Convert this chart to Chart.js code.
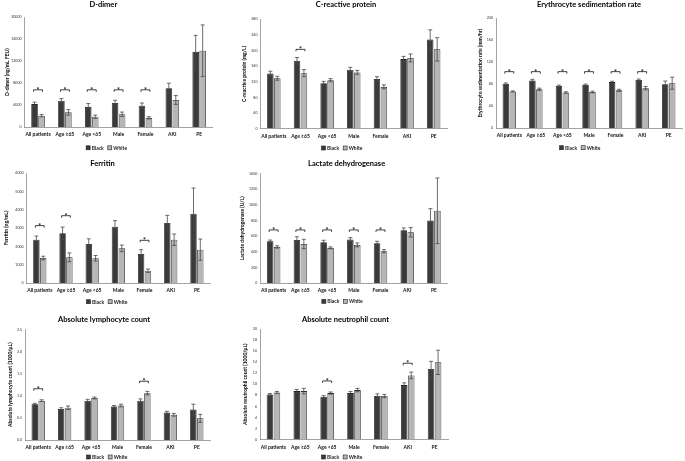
<!DOCTYPE html>
<html>
<head>
<meta charset="utf-8">
<script src="https://cdn.jsdelivr.net/npm/chart.js@4.4.0/dist/chart.umd.min.js"></script>
<style>
body { margin: 0; background: #fff; }
#wrap { position: relative; width: 685px; height: 461px; overflow: hidden; }
canvas { position: absolute; }
</style>
</head>
<body>
<div id="wrap"></div>
<script>
var groups = ['All patients', 'Age \u226565', 'Age <65', 'Male', 'Female', 'AKI', 'PE'];
var seriesNames = ['Black', 'White'];

// D-dimer (ng/mL FEU)
var ddimerBlack = [4200, 4800, 3700, 4400, 3900, 7100, 13700];
var ddimerBlackErr = [350, 400, 600, 500, 500, 900, 3000];
var ddimerWhite = [2100, 2700, 1900, 2350, 1700, 4950, 13900];
var ddimerWhiteErr = [200, 500, 300, 400, 200, 800, 4700];
var ddimerSig = [0, 1, 2, 3, 4];
var ddimerSigAt = [6800, 6800, 6800, 6800, 6800];

// C-reactive protein (mg/L)
var crpBlack = [141, 174, 116, 151, 127, 178, 228];
var crpBlackErr = [6, 8, 5, 6, 6, 7, 25];
var crpWhite = [129, 142, 124, 144, 107, 181, 203];
var crpWhiteErr = [5, 9, 4, 5, 5, 10, 30];
var crpSig = [1];
var crpSigAt = [203];

// Erythrocyte sedimentation rate (mm/hr)
var esrBlack = [81, 87, 77, 79, 84, 88, 80];
var esrBlackErr = [1.5, 2, 1.5, 1.5, 1.5, 1.5, 6];
var esrWhite = [67, 71, 65, 66, 69, 73, 82];
var esrWhiteErr = [1, 2, 1.5, 1.5, 2, 3, 11];
var esrSig = [0, 1, 2, 3, 4, 5];
var esrSigAt = [103, 103, 103, 103, 103, 103];

// Ferritin (ng/mL)
var ferBlack = [2360, 2710, 2130, 3070, 1580, 3270, 3780];
var ferBlackErr = [200, 340, 280, 330, 240, 420, 1400];
var ferWhite = [1360, 1400, 1350, 1890, 670, 2360, 1820];
var ferWhiteErr = [100, 240, 150, 180, 90, 310, 580];
var ferSig = [0, 1, 4];
var ferSigAt = [3130, 3670, 2330];

// Lactate dehydrogenase (U/L)
var ldhBlack = [535, 552, 522, 556, 509, 675, 802];
var ldhBlackErr = [15, 40, 25, 25, 25, 30, 150];
var ldhWhite = [462, 500, 450, 488, 407, 650, 925];
var ldhWhiteErr = [15, 60, 12, 25, 20, 60, 420];
var ldhSig = [0, 1, 2, 3, 4];
var ldhSigAt = [680, 680, 680, 680, 680];

// Absolute lymphocyte count (1000/uL)
var lymBlack = [0.81, 0.70, 0.89, 0.76, 0.89, 0.62, 0.69];
var lymBlackErr = [0.02, 0.03, 0.03, 0.02, 0.04, 0.03, 0.12];
var lymWhite = [0.89, 0.73, 0.95, 0.78, 1.06, 0.57, 0.49];
var lymWhiteErr = [0.02, 0.04, 0.02, 0.03, 0.04, 0.03, 0.09];
var lymSig = [0, 4];
var lymSigAt = [1.16, 1.33];

// Absolute neutrophil count (1000/uL)
var neuBlack = [8.16, 8.76, 7.73, 8.4, 7.86, 9.85, 12.75];
var neuBlackErr = [0.15, 0.3, 0.2, 0.3, 0.4, 0.4, 1.4];
var neuWhite = [8.5, 8.76, 8.4, 8.94, 7.86, 11.6, 13.96];
var neuWhiteErr = [0.2, 0.5, 0.2, 0.3, 0.3, 0.6, 2.2];
var neuSig = [2, 5];
var neuSigAt = [10.6, 13.8];

var FONT = 'Lato, "Open Sans", sans-serif';
var BLACK_FILL = '#3a3a3a';
var WHITE_FILL = '#b6b6b6';

// error bars, significance brackets and the small legend
function marks(sig, sigAt, box) {
    return {
        id: 'marks',
        afterDatasetsDraw: function(chart) {
            var ctx = chart.ctx;
            var y = chart.scales.y;
            ctx.save();
            ctx.lineWidth = 0.8;
            ctx.strokeStyle = '#474747';
            chart.data.datasets.forEach(function(ds, i) {
                chart.getDatasetMeta(i).data.forEach(function(bar, j) {
                    var top = y.getPixelForValue(ds.data[j] + ds.errors[j]);
                    var bot = y.getPixelForValue(ds.data[j] - ds.errors[j]);
                    ctx.beginPath();
                    ctx.moveTo(bar.x, top); ctx.lineTo(bar.x, bot);
                    ctx.moveTo(bar.x - 2, top); ctx.lineTo(bar.x + 2, top);
                    ctx.moveTo(bar.x - 2, bot); ctx.lineTo(bar.x + 2, bot);
                    ctx.stroke();
                });
            });
            var b = chart.getDatasetMeta(0).data;
            var w = chart.getDatasetMeta(1).data;
            ctx.strokeStyle = '#111';
            ctx.fillStyle = '#111';
            ctx.font = 'bold 7px ' + FONT;
            ctx.textAlign = 'center';
            ctx.textBaseline = 'alphabetic';
            sig.forEach(function(j, k) {
                var yy = y.getPixelForValue(sigAt[k]);
                var x1 = b[j].x - 1, x2 = w[j].x + 1;
                ctx.beginPath();
                ctx.moveTo(x1, yy + 2); ctx.lineTo(x1, yy); ctx.lineTo(x2, yy); ctx.lineTo(x2, yy + 2);
                ctx.stroke();
                ctx.fillText('*', (x1 + x2) / 2, yy + 3);
            });
            ctx.restore();
        },
        afterDraw: function(chart) {
            var ctx = chart.ctx;
            ctx.save();
            ctx.font = 'bold 5px ' + FONT;
            ctx.textBaseline = 'middle';
            ctx.textAlign = 'left';
            var ly = box.legendY - box.cy0;
            var parts = chart.data.datasets.map(function(ds) { return ctx.measureText(ds.label).width; });
            var total = 4 + 1.5 + parts[0] + 4 + 4 + 1.5 + parts[1];
            var x = box.legendX - box.cx0 - total / 2;
            chart.data.datasets.forEach(function(ds, i) {
                ctx.fillStyle = ds.backgroundColor;
                ctx.fillRect(x, ly - 2, 4, 4);
                ctx.strokeStyle = '#222';
                ctx.lineWidth = 0.6;
                ctx.strokeRect(x, ly - 2, 4, 4);
                ctx.fillStyle = '#222';
                ctx.fillText(ds.label, x + 5.5, ly + 0.3);
                x += 5.5 + parts[i] + 4;
            });
            ctx.restore();
        }
    };
}

function panel(L, title, yTitle, max, step, black, blackErr, white, whiteErr, sig, sigAt, decimals) {
    // where the scale box starts so that title and axis title land where they should
    var sL = Math.min(L.yTitleX - 4, 2 * L.titleX - L.right);
    var rw = Math.max(0, 2 * L.titleX - L.right - sL);
    var tpad = L.yTitleX - 3 - sL;
    var box = {
        cx0: sL - 2, cy0: L.titleY - 5,
        legendX: L.legendX, legendY: L.legendY
    };
    var W = Math.round(L.right + rw + 1 - box.cx0);
    var H = Math.round(L.legendY + 6 - box.cy0);

    var canvas = document.createElement('canvas');
    canvas.width = W;
    canvas.height = H;
    canvas.style.left = box.cx0 + 'px';
    canvas.style.top = box.cy0 + 'px';
    document.getElementById('wrap').appendChild(canvas);

    var chart = new Chart(canvas.getContext('2d'), {
        type: 'bar',
        data: {
            labels: groups,
            datasets: [
                { label: seriesNames[0], data: black, errors: blackErr,
                  backgroundColor: BLACK_FILL, borderColor: '#1c1c1c', borderWidth: 0.8 },
                { label: seriesNames[1], data: white, errors: whiteErr,
                  backgroundColor: WHITE_FILL, borderColor: '#2a2a2a', borderWidth: 0.8 }
            ]
        },
        options: {
            responsive: false,
            animation: false,
            categoryPercentage: 0.52,
            barPercentage: 0.94,
            layout: { padding: { left: 2, right: W - (L.right + rw - box.cx0), top: 0, bottom: 12 } },
            plugins: {
                title: {
                    display: true, text: title, color: '#000',
                    font: { family: FONT, size: 7.5, weight: 'bold', lineHeight: '10px' },
                    padding: { top: 0, bottom: L.top - L.titleY - 5 }
                },
                legend: { display: false },
                tooltip: { enabled: false }
            },
            scales: {
                x: {
                    grid: { display: false, drawTicks: false },
                    border: { color: '#8c8c8c', width: 0.8 },
                    ticks: { color: '#111', maxRotation: 0, minRotation: 0, autoSkip: false, padding: 4.5,
                             font: { family: FONT, size: 5, weight: 'bold' } }
                },
                y: {
                    min: 0, max: max,
                    grid: { display: false, drawTicks: false },
                    border: { color: '#8c8c8c', width: 0.8 },
                    ticks: { stepSize: step, color: '#333', padding: 3,
                             font: { family: FONT, size: 3.6 },
                             callback: function(v) { return decimals ? v.toFixed(decimals) : v; } },
                    title: { display: true, text: yTitle, color: '#000', padding: { top: tpad, bottom: 0 },
                             font: { family: FONT, size: 5, weight: 'bold' } },
                    afterFit: function(s) { s.width = L.left - sL; }
                },
                r: {
                    position: 'right',
                    display: rw > 0,
                    grid: { display: false, drawTicks: false },
                    border: { display: false },
                    ticks: { display: false },
                    afterFit: function(s) { s.width = rw; }
                }
            }
        },
        plugins: [marks(sig, sigAt, box)]
    });

    // move the x axis onto its place
    var want = L.axis - box.cy0;
    chart.options.layout.padding.bottom += chart.chartArea.bottom - want;
    chart.update();
}

var layouts = [
    { left: 25, right: 213, top: 16.7, axis: 126.7, titleX: 103.7, titleY: 4.5, yTitleX: 7.3, legendX: 107, legendY: 147.3 },
    { left: 260.5, right: 447, top: 19, axis: 128.3, titleX: 346, titleY: 4.7, yTitleX: 244, legendX: 342, legendY: 147.7 },
    { left: 496, right: 682, top: 18.3, axis: 128.3, titleX: 589, titleY: 5, yTitleX: 480, legendX: 580, legendY: 147.7 },
    { left: 26.7, right: 210, top: 173.3, axis: 283.3, titleX: 102.5, titleY: 164.3, yTitleX: 6, legendX: 107, legendY: 302 },
    { left: 260, right: 447, top: 174, axis: 283.3, titleX: 346.3, titleY: 164.3, yTitleX: 241.7, legendX: 342, legendY: 301.7 },
    { left: 25, right: 210, top: 329.5, axis: 440, titleX: 104, titleY: 320, yTitleX: 10, legendX: 107, legendY: 457 },
    { left: 260, right: 448, top: 329, axis: 439.5, titleX: 345.5, titleY: 320, yTitleX: 245, legendX: 342, legendY: 457 }
];

panel(layouts[0], 'D-dimer', 'D-dimer (ng/mL FEU)', 20000, 4000,
      ddimerBlack, ddimerBlackErr, ddimerWhite, ddimerWhiteErr, ddimerSig, ddimerSigAt, 0);
panel(layouts[1], 'C-reactive protein', 'C-reactive protein (mg/L)', 280, 40,
      crpBlack, crpBlackErr, crpWhite, crpWhiteErr, crpSig, crpSigAt, 0);
panel(layouts[2], 'Erythrocyte sedimentation rate', 'Erythrocyte sedimentation rate (mm/hr)', 200, 40,
      esrBlack, esrBlackErr, esrWhite, esrWhiteErr, esrSig, esrSigAt, 0);
panel(layouts[3], 'Ferritin', 'Ferritin (ng/mL)', 6000, 1000,
      ferBlack, ferBlackErr, ferWhite, ferWhiteErr, ferSig, ferSigAt, 0);
panel(layouts[4], 'Lactate dehydrogenase', 'Lactate dehydrogenase (U/L)', 1400, 200,
      ldhBlack, ldhBlackErr, ldhWhite, ldhWhiteErr, ldhSig, ldhSigAt, 0);
panel(layouts[5], 'Absolute lymphocyte count', 'Absolute lymphocyte count (1000/\u03bcL)', 2.5, 0.5,
      lymBlack, lymBlackErr, lymWhite, lymWhiteErr, lymSig, lymSigAt, 1);
panel(layouts[6], 'Absolute neutrophil count', 'Absolute neutrophil count (1000/\u03bcL)', 20, 2,
      neuBlack, neuBlackErr, neuWhite, neuWhiteErr, neuSig, neuSigAt, 0);
</script>
</body>
</html>
